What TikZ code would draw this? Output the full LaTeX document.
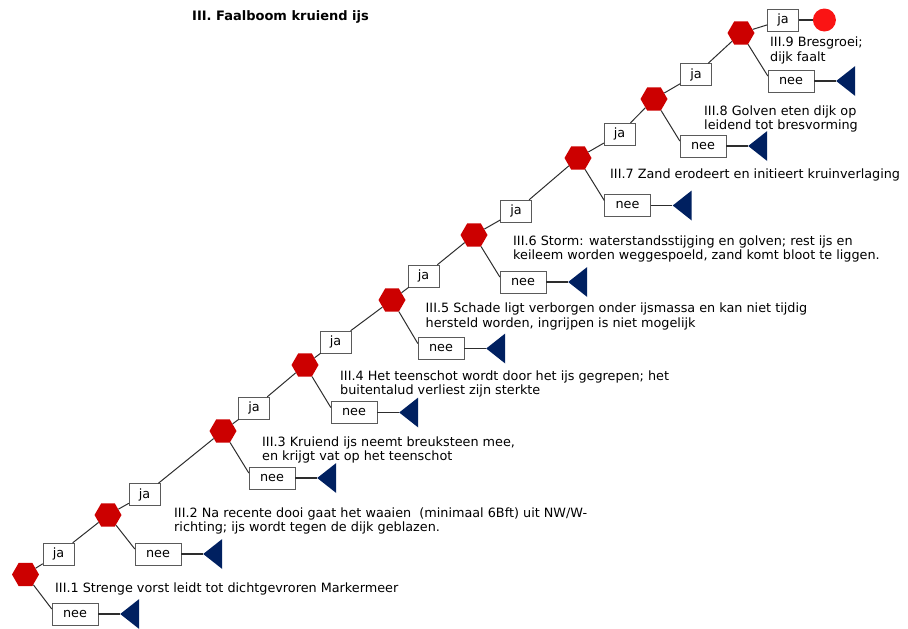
\documentclass[tikz,border=0pt]{standalone}
\usepackage{fontspec}
\setmainfont{DejaVu Sans}
\usetikzlibrary{shapes.geometric,positioning}
\definecolor{hexred}{RGB}{204,0,0}
\definecolor{dotred}{RGB}{250,20,20}
\definecolor{trinavy}{RGB}{0,32,96}
\definecolor{boxgray}{RGB}{90,90,90}
\definecolor{linegray}{RGB}{45,45,45}

\begin{document}
\begin{tikzpicture}[x=1pt,y=-1pt,
		font=\fontsize{12.8}{14.5}\selectfont,
		hexa/.style={regular polygon, regular polygon sides=6, minimum size=27pt, inner sep=0pt, fill=hexred},
		yesbox/.style={draw=boxgray, fill=white, minimum width=31pt, minimum height=22pt, inner sep=0pt},
		nobox/.style={yesbox, minimum width=46pt},
		endtri/.style={isosceles triangle, isosceles triangle stretches, shape border rotate=180, minimum width=30pt, minimum height=19pt, inner sep=0pt, fill=trinavy},
		faildot/.style={circle, minimum size=23pt, inner sep=0pt, fill=dotred},
		branch/.style={draw=linegray, line width=1pt},
		stub/.style={draw=linegray, line width=1.4pt},
		desc/.style={anchor=base west, align=left, inner sep=0pt}]
			\useasboundingbox (0,0) rectangle (908,629);
			
			% Title
			\node[desc, font=\fontsize{13}{15}\selectfont\bfseries] (title) at (192,20) {III. Faalboom kruiend ijs};
			
			% Events
			\foreach \i/\x/\y in {1/25.5/574.5, 2/108/515, 3/223/431, 4/305/365, 5/392/300, 6/474/235, 7/578/158, 8/654/99, 9/741/33}
			\node[hexa] (h\i) at (\x,\y) {};
			
			% ja boxes
			\foreach \i/\x/\y in {1/58.5/554, 2/144.5/494.5, 3/254/408, 4/335.5/342, 5/423.5/276, 6/516/211, 7/619.5/134, 8/696/74.5, 9/783/20}
			\node[yesbox] (ja\i) at (\x,\y) {ja};
			
			% nee boxes
			\foreach \i/\x/\y in {1/75/614, 2/158/554, 3/272/478, 4/354/412.5, 5/441/348.5, 6/523/282, 7/627.5/205.5, 8/703/146, 9/791/81}
			\node[nobox] (nee\i) at (\x,\y) {nee};
			
			% Ends
			\foreach \i in {1,...,9}
			\node[endtri, right=21.5pt of nee\i] (t\i) {};
			\node[faildot, right=14pt of ja9] (fail) {};
			
			% Branches
			\foreach \i in {1,...,9} {
				\draw[branch] (h\i) -- (ja\i);
				\draw[branch] (h\i) -- ([yshift=5pt]nee\i.west);
				\draw[stub] (nee\i) -- (t\i);
			}
			\foreach \i/\j in {1/2,2/3,3/4,4/5,5/6,6/7,7/8,8/9}
			\draw[branch] (ja\i) -- (h\j);
			\draw[stub] (ja9) -- (fail);
			
			% Descriptions (base = last line)
			\node[desc] (d1) at (55,592) {III.1 Strenge vorst leidt tot dichtgevroren Markermeer};
			\node[desc] (d2) at (174,531.5) {III.2 Na recente dooi gaat het waaien\ \ (minimaal 6Bft) uit NW/W-\\richting; ijs wordt tegen de dijk geblazen.};
			\node[desc] (d3) at (262,460.5) {III.3 Kruiend ijs neemt breuksteen mee,\\en krijgt vat op het teenschot};
			\node[desc] (d4) at (340,394.5) {III.4 Het teenschot wordt door het ijs gegrepen; het\\buitentalud verliest zijn sterkte};
			\node[desc] (d5) at (425.5,327) {III.5 Schade ligt verborgen onder ijsmassa en kan niet tijdig\\hersteld worden, ingrijpen is niet mogelijk};
			\node[desc] (d6) at (513,259.5) {III.6 Storm: waterstandsstijging en golven; rest ijs en\\keileem worden weggespoeld, zand komt bloot te liggen.};
			\node[desc] (d7) at (610,178) {III.7 Zand erodeert en initieert kruinverlaging};
			\node[desc] (d8) at (704,129.5) {III.8 Golven eten dijk op\\leidend tot bresvorming};
			\node[desc] (d9) at (770,61) {III.9 Bresgroei;\\dijk faalt};
		\end{tikzpicture}
\end{document}
